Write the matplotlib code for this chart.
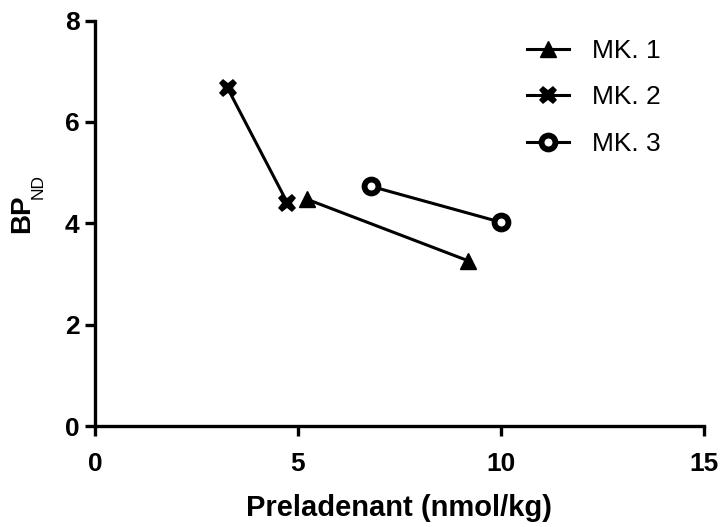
import matplotlib
matplotlib.use("Agg")
import matplotlib.pyplot as plt

plt.rcParams['font.family'] = ['Liberation Sans', 'DejaVu Sans']

mk1_x = [5.23, 9.19]
mk1_y = [4.47, 3.26]
mk2_x = [3.27, 4.74]
mk2_y = [6.66, 4.40]
mk3_x = [6.79, 10.0]
mk3_y = [4.73, 4.02]
labels = ["MK. 1", "MK. 2", "MK. 3"]

W, H = 721, 527
fig = plt.figure(figsize=(W / 100, H / 100), dpi=100)
ax = fig.add_axes([95 / W, 1 - 426 / H, 609 / W, 405.5 / H])

lw = 2.2
ax.plot(mk1_x, mk1_y, color='black', lw=lw, marker='^', ms=11, mfc='black', mec='black', label=labels[0])
ax.plot(mk2_x, mk2_y, color='black', lw=lw, marker='X', ms=13, mfc='black', mec='black', mew=0, label=labels[1])
ax.plot(mk3_x, mk3_y, color='black', lw=lw, marker='o', ms=10, mfc='white', mec='black', mew=4.2, label=labels[2])

ax.set_xlim(0, 15)
ax.set_ylim(0, 8)
ax.set_xticks([0, 5, 10, 15])
ax.set_yticks([0, 2, 4, 6, 8])
for s in ['top', 'right']:
    ax.spines[s].set_visible(False)
for s in ['left', 'bottom']:
    ax.spines[s].set_linewidth(2.4)
ax.tick_params(direction='out', length=7, width=2.4, labelsize=19)
ax.tick_params(axis='x', pad=12)
ax.tick_params(axis='y', pad=4)
for t in ax.get_xticklabels() + ax.get_yticklabels():
    t.set_fontweight('bold')

ax.set_xlabel("Preladenant (nmol/kg)", fontsize=21, fontweight='bold', labelpad=13)

fig.text(22 / W, 1 - 214 / H, "BP", fontsize=20, fontweight='bold', rotation=90,
         ha='center', va='center')
fig.text(38 / W, 1 - 186 / H, "ND", fontsize=12.5, rotation=90, ha='center', va='center')

leg = ax.legend(loc='upper left', bbox_to_anchor=(527 / W, 1 - 39 / H),
                bbox_transform=fig.transFigure, frameon=False, fontsize=19,
                borderpad=0, borderaxespad=0,
                handlelength=1.58, handletextpad=0.9, labelspacing=0.85)

fig.savefig("out.png", dpi=100)
